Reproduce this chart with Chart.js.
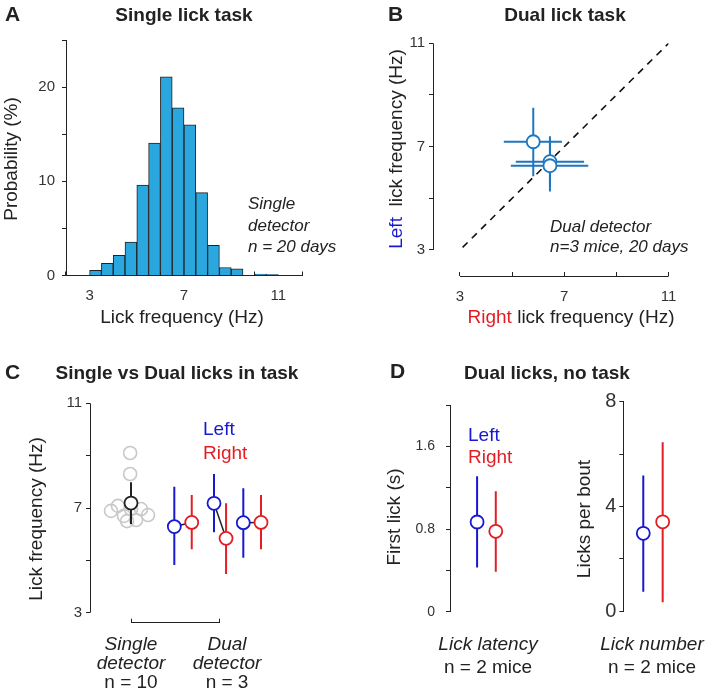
<!DOCTYPE html>
<html>
<head>
<meta charset="utf-8">
<script src="https://cdn.jsdelivr.net/npm/chart.js@4.4.1/dist/chart.umd.min.js"></script>
<style>
  body { margin: 0; background: #fff; }
  #fig { position: relative; width: 707px; height: 696px; background: #fff; }
  #fig canvas { position: absolute; left: 0; top: 0; }
</style>
</head>
<body>
<div id="fig">
  <canvas id="chartA" width="707" height="696"></canvas>
  <canvas id="chartB" width="707" height="696"></canvas>
  <canvas id="chartC" width="707" height="696"></canvas>
  <canvas id="chartD1" width="707" height="696"></canvas>
  <canvas id="chartD2" width="707" height="696"></canvas>
</div>
<script>
// A: single lick task, histogram of lick frequency
const binCenters = [3.25, 3.75, 4.25, 4.75, 5.25, 5.75, 6.25, 6.75, 7.25, 7.75, 8.25, 8.75, 9.25, 9.75, 10.25, 10.75];
const probPct = [0.55, 1.3, 2.15, 3.55, 9.6, 14.05, 21.1, 17.8, 16.0, 8.8, 3.2, 0.85, 0.7, 0, 0.15, 0.1];
const probTicks = [0, 5, 10, 15, 20, 25];
const probLabels = [0, 10, 20];
const freqTicks = [3, 5, 7, 9, 11];
const freqLabels = [3, 7, 11];

// B: dual lick task, left vs right per mouse
const rightFreq = [5.81, 6.45, 6.45];
const rightLo = [4.68, 5.14, 4.95];
const rightHi = [6.91, 7.76, 7.92];
const leftFreq = [7.19, 6.42, 6.26];
const leftLo = [5.85, 5.26, 5.45];
const leftHi = [8.51, 7.40, 7.20];
const unity = [3.1, 11];

// C: single vs dual detector
const singleX = [0.99, 0.99, 0.773, 0.852, 0.92, 0.955, 1.057, 1.114, 1.193, 1.0];
const singleDays = [9.10, 8.30, 6.89, 7.08, 6.70, 6.50, 6.54, 6.96, 6.73, 6.96];
const singleMeanX = [1];
const singleMean = [7.19];
const singleLo = [6.39];
const singleHi = [7.98];
const dualLeftX = [1.492, 1.943, 2.276];
const dualLeftMean = [6.29, 7.18, 6.44];
const dualLeftLo = [4.82, 6.07, 5.10];
const dualLeftHi = [7.81, 8.30, 7.75];
const dualRightX = [1.69, 2.08, 2.477];
const dualRightMean = [6.45, 5.84, 6.45];
const dualRightLo = [5.42, 4.48, 5.42];
const dualRightHi = [7.50, 7.18, 7.50];
const groupTicks = [1, 2];

// D: dual licks, no task
const sideX = [1, 2];
const latencyMean = [0.868, 0.778];
const latencyLo = [0.428, 0.386];
const latencyHi = [1.31, 1.166];
const latencyTicks = [0, 0.4, 0.8, 1.2, 1.6, 2.0];
const latencyLabels = [0, 0.8, 1.6];
const boutMean = [2.97, 3.41];
const boutLo = [0.74, 0.33];
const boutHi = [5.18, 6.45];
const boutTicks = [0, 2, 4, 6, 8];
const boutLabels = [0, 4, 8];

const W = 707, H = 696, YW = 50, XH = 40;
const FF = '"Liberation Sans", Arial, Helvetica, sans-serif';
const INK = '#222';
const BLUE = 'rgb(24,24,208)';
const RED = 'rgb(226,30,36)';
const BLUE_B = 'rgb(30,118,190)';
const HIST = 'rgb(41,167,222)';
const GREY = 'rgb(200,200,200)';

function padFor(a) {
    return { left: a.l - YW, top: a.t, right: W - a.r, bottom: H - a.b - XH };
}

function yAxis(min, max, ticks, labels, size, pad, border) {
    return {
        type: 'linear', position: 'left', min: min, max: max,
        afterFit: s => { s.width = YW; },
        afterBuildTicks: s => { s.ticks = ticks.map(v => ({ value: v })); },
        ticks: {
            padding: pad, color: '#333', font: { family: FF, size: size },
            autoSkip: false, maxRotation: 0,
            callback: v => labels.includes(v) ? String(v) : ''
        },
        grid: { drawOnChartArea: false, drawTicks: true, tickLength: 4, color: INK, lineWidth: 1 },
        border: { display: border, color: INK, width: 1 }
    };
}

function xAxis(min, max, ticks, labels, size, pad, border) {
    return {
        type: 'linear', position: 'bottom', min: min, max: max, offset: false,
        afterFit: s => { s.height = XH; },
        afterBuildTicks: s => { s.ticks = ticks.map(v => ({ value: v })); },
        ticks: {
            display: ticks.length > 0, padding: pad, color: '#333', font: { family: FF, size: size },
            autoSkip: false, maxRotation: 0,
            callback: v => labels.includes(v) ? String(v) : ''
        },
        grid: { display: ticks.length > 0, drawOnChartArea: false, drawTicks: true, tickLength: -4, color: INK, lineWidth: 1 },
        border: { display: border, color: INK, width: 1 }
    };
}

function circles(xs, ys, color, fill, r, order) {
    return {
        data: xs.map((x, i) => ({ x: x, y: ys[i] })),
        showLine: false, pointRadius: r, pointHoverRadius: r,
        pointBorderColor: color, pointBackgroundColor: fill, pointBorderWidth: 1.8,
        order: order
    };
}

function vBars(xs, lo, hi, color, width) {
    return xs.map((x, i) => ({
        data: [{ x: x, y: lo[i] }, { x: x, y: hi[i] }],
        showLine: true, pointRadius: 0, borderColor: color, borderWidth: width, order: 2
    }));
}

function hBars(ys, lo, hi, color, width) {
    return ys.map((y, i) => ({
        data: [{ x: lo[i], y: y }, { x: hi[i], y: y }],
        showLine: true, pointRadius: 0, borderColor: color, borderWidth: width, order: 2
    }));
}

function al(p) { return Math.round(p - 0.5) + 0.5; }

function decorPlugin(name, decor) {
    return {
        id: name,
        afterDraw(chart) {
            const ctx = chart.ctx, a = chart.chartArea, sx = chart.scales.x, sy = chart.scales.y;
            ctx.save();
            ctx.strokeStyle = INK;
            ctx.lineWidth = 1;
            if (decor.yLine) {
                const x = al(a.left);
                ctx.beginPath();
                ctx.moveTo(x, sy.getPixelForValue(decor.yLine[0]));
                ctx.lineTo(x, sy.getPixelForValue(decor.yLine[1]));
                ctx.stroke();
            }
            if (decor.xLine) {
                const y = al(a.bottom);
                ctx.beginPath();
                ctx.moveTo(sx.getPixelForValue(decor.xLine[0]), y);
                ctx.lineTo(sx.getPixelForValue(decor.xLine[1]), y);
                ctx.stroke();
            }
            ctx.textBaseline = 'middle';
            (decor.texts || []).forEach(t => {
                const x = typeof t.x === 'function' ? t.x(sx) : t.x;
                ctx.font = t.font;
                const parts = t.parts || [[t.text, t.color || INK]];
                const total = parts.reduce((s, p) => s + ctx.measureText(p[0]).width, 0);
                ctx.save();
                ctx.translate(x, t.y);
                if (t.rot) ctx.rotate(-Math.PI / 2);
                let start = t.align === 'left' ? 0 : (t.align === 'right' ? -total : -total / 2);
                ctx.textAlign = 'left';
                parts.forEach(p => {
                    ctx.fillStyle = p[1];
                    ctx.fillText(p[0], start, 0);
                    start += ctx.measureText(p[0]).width;
                });
                ctx.restore();
            });
            ctx.restore();
        }
    };
}

function makeChart(id, type, area, scales, datasets, decor) {
    return new Chart(document.getElementById(id), {
        type: type,
        data: { datasets: datasets },
        options: {
            responsive: false, animation: false, devicePixelRatio: 1,
            layout: { padding: padFor(area) },
            plugins: { legend: { display: false }, tooltip: { enabled: false } },
            scales: scales
        },
        plugins: [decorPlugin('decor_' + id, decor)]
    });
}

const bold = 'bold 19px ' + FF;
const letter = 'bold 21px ' + FF;
const axisT = '19px ' + FF;
const ital = 'italic 17px ' + FF;
const ital19 = 'italic 19px ' + FF;
const norm19 = '19px ' + FF;

// Panel A
makeChart('chartA', 'bar', { l: 66, r: 302, t: 40, b: 275.5 }, {
    x: xAxis(2, 12, freqTicks, freqLabels, 15, 15.5, true),
    y: yAxis(0, 25, probTicks, probLabels, 15, 7, true)
}, [{
    type: 'bar',
    data: binCenters.map((c, i) => ({ x: c, y: probPct[i] })),
    backgroundColor: HIST, borderColor: INK, borderWidth: 1,
    barPercentage: 1, categoryPercentage: 1
}], {
    texts: [
        { text: 'A', x: 5, y: 15, font: letter, align: 'left' },
        { text: 'Single lick task', x: 184, y: 16, font: bold },
        { text: 'Probability (%)', x: 12, y: 159, font: axisT, rot: true },
        { text: 'Lick frequency (Hz)', x: 182, y: 318, font: axisT },
        { text: 'Single', x: 248, y: 204, font: ital, align: 'left' },
        { text: 'detector', x: 248, y: 226, font: ital, align: 'left' },
        { text: 'n = 20 days', x: 248, y: 247, font: ital, align: 'left' }
    ]
});

// Panel B
makeChart('chartB', 'scatter', { l: 433, r: 668.6, t: 43.3, b: 276 }, {
    x: xAxis(1.965, 11, freqTicks, freqLabels, 15, 15.5, false),
    y: yAxis(1.993, 11, freqTicks, freqLabels, 15, 4, false)
}, [
    circles(rightFreq, leftFreq, BLUE_B, '#fff', 6.5, 0),
    ...vBars(rightFreq, leftLo, leftHi, BLUE_B, 2),
    ...hBars(leftFreq, rightLo, rightHi, BLUE_B, 2),
    {
        data: unity.map(v => ({ x: v, y: v })), showLine: true, pointRadius: 0,
        borderColor: '#111', borderWidth: 1.6, borderDash: [7, 6], order: 3
    }
], {
    yLine: [3, 11], xLine: [3, 11],
    texts: [
        { text: 'B', x: 388, y: 15, font: letter, align: 'left' },
        { text: 'Dual lick task', x: 565, y: 16, font: bold },
        { parts: [['Left', BLUE], ['  lick frequency (Hz)', INK]], x: 397, y: 149, font: axisT, rot: true },
        { parts: [['Right', RED], [' lick frequency (Hz)', INK]], x: 571, y: 318, font: axisT },
        { text: 'Dual detector', x: 550, y: 227, font: ital, align: 'left' },
        { text: 'n=3 mice, 20 days', x: 550, y: 247, font: ital, align: 'left' }
    ]
});

// Panel C
const pairLinks = dualLeftX.map((x, i) => ({
    data: [{ x: x, y: dualLeftMean[i] }, { x: dualRightX[i], y: dualRightMean[i] }],
    showLine: true, pointRadius: 0, borderColor: INK, borderWidth: 1.5, order: 2
}));
makeChart('chartC', 'scatter', { l: 90, r: 272, t: 403.3, b: 622.7 }, {
    x: xAxis(0.534, 2.602, groupTicks, [], 15, 15.5, false),
    y: yAxis(2.618, 11, freqTicks, freqLabels, 15, 4, false)
}, [
    circles(singleMeanX, singleMean, INK, '#fff', 6.5, 0),
    circles(dualLeftX, dualLeftMean, BLUE, '#fff', 6.5, 0),
    circles(dualRightX, dualRightMean, RED, '#fff', 6.5, 0),
    ...vBars(singleMeanX, singleLo, singleHi, INK, 2),
    ...vBars(dualLeftX, dualLeftLo, dualLeftHi, BLUE, 2),
    ...vBars(dualRightX, dualRightLo, dualRightHi, RED, 2),
    ...pairLinks,
    Object.assign(circles(singleX, singleDays, GREY, 'rgba(0,0,0,0)', 6.5, 4), { pointBorderWidth: 1.6 })
], {
    yLine: [3, 11], xLine: [1, 2],
    texts: [
        { text: 'C', x: 5, y: 373, font: letter, align: 'left' },
        { text: 'Single vs Dual licks in task', x: 177, y: 374, font: bold },
        { text: 'Lick frequency (Hz)', x: 37, y: 519, font: axisT, rot: true },
        { text: 'Left', x: 203, y: 430, font: norm19, color: BLUE, align: 'left' },
        { text: 'Right', x: 203, y: 454, font: norm19, color: RED, align: 'left' },
        { text: 'Single', x: s => s.getPixelForValue(1), y: 645, font: ital19 },
        { text: 'detector', x: s => s.getPixelForValue(1), y: 664, font: ital19 },
        { text: 'n = 10', x: s => s.getPixelForValue(1), y: 683, font: norm19 },
        { text: 'Dual', x: s => s.getPixelForValue(2) + 8, y: 645, font: ital19 },
        { text: 'detector', x: s => s.getPixelForValue(2) + 8, y: 664, font: ital19 },
        { text: 'n = 3', x: s => s.getPixelForValue(2) + 8, y: 683, font: norm19 }
    ]
});

// Panel D, lick latency
makeChart('chartD1', 'scatter', { l: 450, r: 521, t: 405, b: 611.7 }, {
    x: xAxis(-0.45, 3.35, [], [], 14, 10, false),
    y: yAxis(0, 2, latencyTicks, latencyLabels, 14, 11, true)
}, [
    circles(sideX.slice(0, 1), latencyMean.slice(0, 1), BLUE, '#fff', 6.5, 0),
    circles(sideX.slice(1), latencyMean.slice(1), RED, '#fff', 6.5, 0),
    ...vBars(sideX.slice(0, 1), latencyLo.slice(0, 1), latencyHi.slice(0, 1), BLUE, 2),
    ...vBars(sideX.slice(1), latencyLo.slice(1), latencyHi.slice(1), RED, 2)
], {
    texts: [
        { text: 'D', x: 390, y: 372, font: letter, align: 'left' },
        { text: 'Dual licks, no task', x: 547, y: 374, font: bold },
        { text: 'First lick (s)', x: 395, y: 517, font: axisT, rot: true },
        { text: 'Left', x: 468, y: 436, font: norm19, color: BLUE, align: 'left' },
        { text: 'Right', x: 468, y: 458, font: norm19, color: RED, align: 'left' },
        { text: 'Lick latency', x: 488, y: 645, font: ital19 },
        { text: 'n = 2 mice', x: 488, y: 668, font: norm19 }
    ]
});

// Panel D, lick number
makeChart('chartD2', 'scatter', { l: 623.3, r: 691, t: 401.7, b: 611 }, {
    x: xAxis(-0.03, 3.46, [], [], 14, 10, false),
    y: yAxis(0, 8, boutTicks, boutLabels, 20, 3, true)
}, [
    circles(sideX.slice(0, 1), boutMean.slice(0, 1), BLUE, '#fff', 6.5, 0),
    circles(sideX.slice(1), boutMean.slice(1), RED, '#fff', 6.5, 0),
    ...vBars(sideX.slice(0, 1), boutLo.slice(0, 1), boutHi.slice(0, 1), BLUE, 2),
    ...vBars(sideX.slice(1), boutLo.slice(1), boutHi.slice(1), RED, 2)
], {
    texts: [
        { text: 'Licks per bout', x: 585, y: 519, font: axisT, rot: true },
        { text: 'Lick number', x: 652, y: 645, font: ital19 },
        { text: 'n = 2 mice', x: 652, y: 668, font: norm19 }
    ]
});
</script>
</body>
</html>
